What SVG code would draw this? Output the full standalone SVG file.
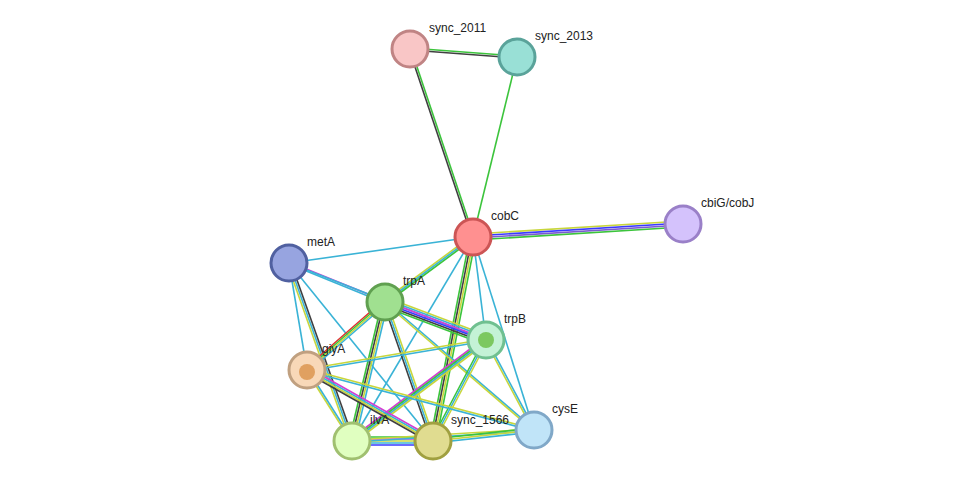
<svg xmlns="http://www.w3.org/2000/svg" width="976" height="487" viewBox="0 0 976 487">
<style>
line{stroke-width:1.6;fill:none}
.g{stroke:#3cc43c}.k{stroke:#404040}.y{stroke:#c8d63c}.c{stroke:#3ab3d6}.m{stroke:#d43cd4}.b{stroke:#3a3aff}.p{stroke:#7a5ad0}.r{stroke:#e03030}
circle{stroke-width:3}
text{font-family:"Liberation Sans",Arial,sans-serif;font-size:12px;fill:#222}
</style>
<rect width="976" height="487" fill="#fff"/>
<g id="connectors">
<line class="g" x1="410" y1="48" x2="517" y2="56"/><line class="k" x1="410" y1="50" x2="517" y2="58"/>
<line class="g" x1="411" y1="49" x2="474" y2="237"/><line class="k" x1="409" y1="49" x2="472" y2="237"/>
<line class="g" x1="517" y1="57" x2="473" y2="237"/>
<line class="y" x1="473" y1="234" x2="683" y2="221"/><line class="b" x1="473" y1="236" x2="683" y2="223"/><line class="p" x1="473" y1="238" x2="683" y2="225"/><line class="g" x1="473" y1="240" x2="683" y2="227"/>
<line class="c" x1="473" y1="237" x2="289" y2="263"/>
<line class="y" x1="473" y1="235" x2="385" y2="300"/><line class="c" x1="473" y1="237" x2="385" y2="302"/><line class="g" x1="473" y1="239" x2="385" y2="304"/>
<line class="c" x1="473" y1="237" x2="486" y2="340"/>
<line class="c" x1="473" y1="237" x2="352" y2="441"/>
<line class="g" x1="470" y1="237" x2="430" y2="441"/><line class="k" x1="472" y1="237" x2="432" y2="441"/><line class="y" x1="474" y1="237" x2="434" y2="441"/><line class="g" x1="476" y1="237" x2="436" y2="441"/>
<line class="c" x1="473" y1="237" x2="534" y2="430"/>
<line class="m" x1="289" y1="262" x2="385" y2="301"/><line class="c" x1="289" y1="264" x2="385" y2="303"/>
<line class="c" x1="289" y1="263" x2="307" y2="370"/>
<line class="y" x1="287" y1="263" x2="350" y2="441"/><line class="c" x1="289" y1="263" x2="352" y2="441"/><line class="k" x1="291" y1="263" x2="354" y2="441"/>
<line class="c" x1="289" y1="263" x2="433" y2="441"/>
<line class="c" x1="289" y1="263" x2="486" y2="340"/>
<line class="y" x1="385" y1="297" x2="486" y2="335"/><line class="c" x1="385" y1="299" x2="486" y2="337"/><line class="m" x1="385" y1="301" x2="486" y2="339"/><line class="b" x1="385" y1="303" x2="486" y2="341"/><line class="k" x1="385" y1="305" x2="486" y2="343"/><line class="g" x1="385" y1="307" x2="486" y2="345"/>
<line class="r" x1="385" y1="299" x2="307" y2="367"/><line class="g" x1="385" y1="301" x2="307" y2="369"/><line class="y" x1="385" y1="303" x2="307" y2="371"/><line class="c" x1="385" y1="305" x2="307" y2="373"/>
<line class="g" x1="382" y1="302" x2="349" y2="441"/><line class="k" x1="384" y1="302" x2="351" y2="441"/><line class="y" x1="386" y1="302" x2="353" y2="441"/><line class="c" x1="388" y1="302" x2="355" y2="441"/>
<line class="k" x1="383" y1="302" x2="431" y2="441"/><line class="c" x1="385" y1="302" x2="433" y2="441"/><line class="y" x1="387" y1="302" x2="435" y2="441"/>
<line class="c" x1="385" y1="301" x2="534" y2="429"/><line class="y" x1="385" y1="303" x2="534" y2="431"/>
<line class="y" x1="486" y1="339" x2="307" y2="369"/><line class="c" x1="486" y1="341" x2="307" y2="371"/>
<line class="m" x1="486" y1="337" x2="352" y2="438"/><line class="g" x1="486" y1="339" x2="352" y2="440"/><line class="c" x1="486" y1="341" x2="352" y2="442"/><line class="y" x1="486" y1="343" x2="352" y2="444"/>
<line class="g" x1="484" y1="340" x2="431" y2="441"/><line class="c" x1="486" y1="340" x2="433" y2="441"/><line class="y" x1="488" y1="340" x2="435" y2="441"/>
<line class="y" x1="485" y1="340" x2="533" y2="430"/><line class="c" x1="487" y1="340" x2="535" y2="430"/>
<line class="y" x1="306" y1="370" x2="351" y2="441"/><line class="c" x1="308" y1="370" x2="353" y2="441"/>
<line class="m" x1="307" y1="367" x2="433" y2="438"/><line class="c" x1="307" y1="369" x2="433" y2="440"/><line class="y" x1="307" y1="371" x2="433" y2="442"/><line class="k" x1="307" y1="373" x2="433" y2="444"/>
<line class="y" x1="307" y1="369" x2="534" y2="429"/><line class="c" x1="307" y1="371" x2="534" y2="431"/>
<line class="g" x1="352" y1="437" x2="433" y2="437"/><line class="m" x1="352" y1="439" x2="433" y2="439"/><line class="y" x1="352" y1="441" x2="433" y2="441"/><line class="c" x1="352" y1="443" x2="433" y2="443"/><line class="b" x1="352" y1="445" x2="433" y2="445"/>
<line class="y" x1="352" y1="440" x2="534" y2="429"/><line class="c" x1="352" y1="442" x2="534" y2="431"/>
<line class="g" x1="433" y1="439" x2="534" y2="428"/><line class="y" x1="433" y1="441" x2="534" y2="430"/><line class="c" x1="433" y1="443" x2="534" y2="432"/>
</g>
<g id="sync_2011"><circle cx="410" cy="49" r="18" fill="#f9c6c6" stroke="#c08484"/><text x="429" y="32">sync_2011</text></g>
<g id="sync_2013"><circle cx="517" cy="57" r="18" fill="#99e0d6" stroke="#5aa39a"/><text x="535" y="40">sync_2013</text></g>
<g id="cobC"><circle cx="473" cy="237" r="18" fill="#ff9090" stroke="#cc5555"/><text x="491" y="220">cobC</text></g>
<g id="cbiG"><circle cx="683" cy="224" r="18" fill="#d4c2fc" stroke="#9a80c8"/><text x="701" y="207">cbiG/cobJ</text></g>
<g id="metA"><circle cx="289" cy="263" r="18" fill="#97a4e0" stroke="#5060a0"/><text x="307" y="246">metA</text></g>
<g id="trpA"><circle cx="385" cy="302" r="18" fill="#a0e090" stroke="#60a050"/><text x="403" y="285">trpA</text></g>
<g id="trpB"><circle cx="486" cy="340" r="18" fill="#c4f2d6" stroke="#70c090"/><circle cx="486" cy="340" r="8" fill="#7cc860" stroke="none"/><text x="504" y="323">trpB</text></g>
<g id="giyA"><circle cx="307" cy="370" r="18" fill="#f8d8b8" stroke="#c0a080"/><circle cx="307" cy="372" r="8" fill="#e0a060" stroke="none"/><text x="322" y="353">giyA</text></g>
<g id="ilvA"><circle cx="352" cy="441" r="18" fill="#e0ffc0" stroke="#a0c070"/><text x="370" y="424">ilvA</text></g>
<g id="sync_1566"><circle cx="433" cy="441" r="18" fill="#e0dc90" stroke="#a0a040"/><text x="451" y="424">sync_1566</text></g>
<g id="cysE"><circle cx="534" cy="430" r="18" fill="#c0e4f8" stroke="#80a8c8"/><text x="552" y="413">cysE</text></g>
</svg>
